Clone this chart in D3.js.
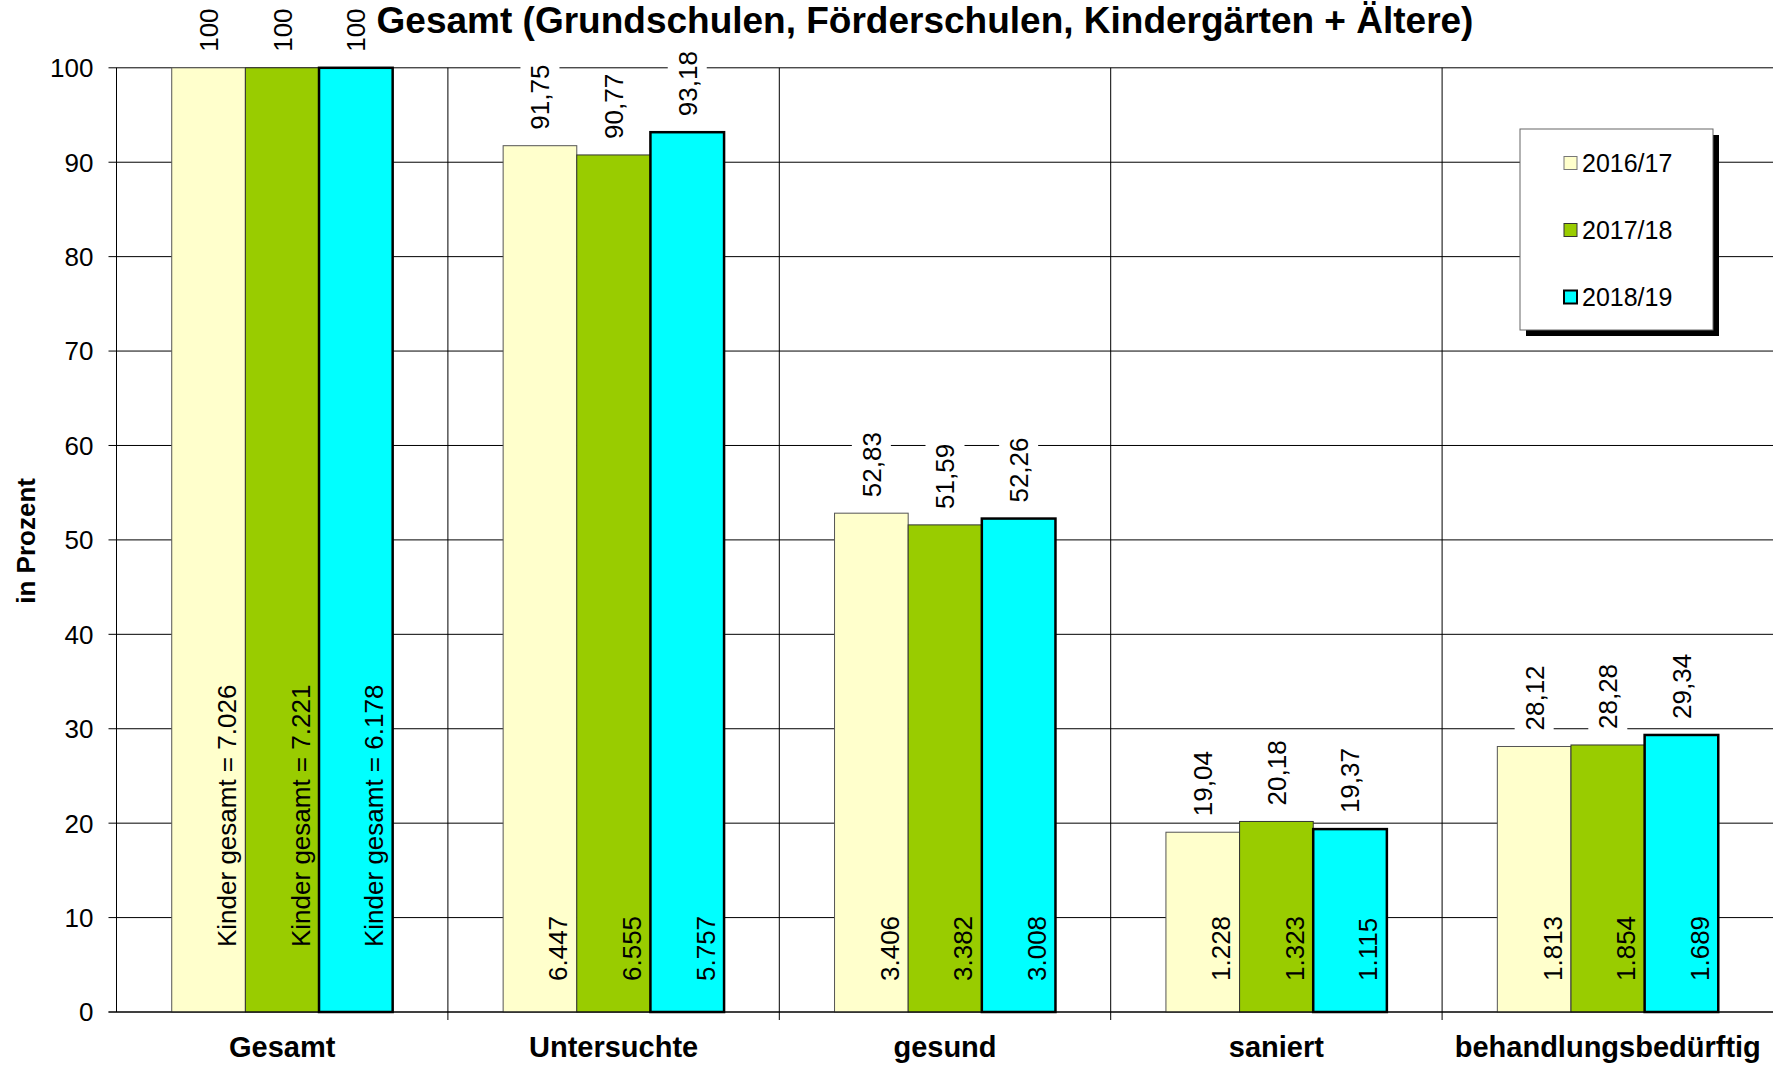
<!DOCTYPE html>
<html>
<head>
<meta charset="utf-8">
<script src="https://cdn.jsdelivr.net/npm/d3@7"></script>
<style>
  html, body { margin: 0; padding: 0; background: #fff; }
  svg { display: block; font-family: "Liberation Sans", Arial, sans-serif; }
</style>
</head>
<body>
<svg id="chart" width="1773" height="1066"></svg>
<script>
// data
const categories = ["Gesamt", "Untersuchte", "gesund", "saniert", "behandlungsbedürftig"];
const seasons = ["2016/17", "2017/18", "2018/19"];
const pct201617 = [100, 91.75, 52.83, 19.04, 28.12];
const pct201718 = [100, 90.77, 51.59, 20.18, 28.28];
const pct201819 = [100, 93.18, 52.26, 19.37, 29.34];
const kids201617 = [7026, 6447, 3406, 1228, 1813];
const kids201718 = [7221, 6555, 3382, 1323, 1854];
const kids201819 = [6178, 5757, 3008, 1115, 1689];
const yTicks = [0, 10, 20, 30, 40, 50, 60, 70, 80, 90, 100];

const pctBySeason = [pct201617, pct201718, pct201819];
const kidsBySeason = [kids201617, kids201718, kids201819];

const fills   = ["#ffffcc", "#99cc00", "#00ffff"];
const strokes = ["#555", "#333", "#000"];
const strokeW = [1, 1, 2.5];

const de = d3.formatLocale({ decimal: ",", thousands: ".", grouping: [3], currency: ["", " €"] });
const fmtPct = v => Number.isInteger(v) ? String(v) : de.format(".2f")(v);
const fmtKids = de.format(",d");

const svg = d3.select("#chart");
const FONT = 26;

// 1) scales
const plot = { left: 116.5, right: 1773.5, top: 67.8, bottom: 1012 };
const x0 = d3.scaleBand().domain(categories).range([plot.left, plot.right]).paddingInner(0).paddingOuter(0);
const x1 = d3.scaleBand().domain(seasons).range([0, x0.bandwidth()]).paddingInner(0).paddingOuter(0.75);
const y = d3.scaleLinear().domain([0, 100]).range([plot.bottom, plot.top]);

// rows: one per bar
const rows = [];
categories.forEach((c, i) => {
  seasons.forEach((s, j) => {
    rows.push({ cat: c, season: s, si: j, pct: pctBySeason[j][i], kids: kidsBySeason[j][i], ci: i });
  });
});

// 2) grid + axes
const grid = svg.append("g").attr("class", "grid");
grid.selectAll("line.h").data(yTicks).join("line")
  .attr("class", "h")
  .attr("x1", plot.left - 8).attr("x2", plot.right)
  .attr("y1", d => y(d)).attr("y2", d => y(d))
  .attr("stroke", "#000").attr("stroke-width", 1);

// category separators (with small ticks below the axis)
grid.selectAll("line.v").data(categories).join("line")
  .attr("class", "v")
  .attr("x1", d => x0(d)).attr("x2", d => x0(d))
  .attr("y1", plot.top).attr("y2", (d, i) => i === 0 ? plot.bottom : plot.bottom + 8)
  .attr("stroke", "#000").attr("stroke-width", 1);

svg.append("g").selectAll("text").data(yTicks).join("text")
  .attr("x", plot.left - 23)
  .attr("y", d => y(d))
  .attr("dy", "0.36em")
  .attr("text-anchor", "end")
  .attr("font-size", FONT)
  .text(d => d);

svg.append("text")
  .attr("transform", `translate(35,${(plot.top + plot.bottom) / 2 + 1}) rotate(-90)`)
  .attr("text-anchor", "middle")
  .attr("font-size", 26).attr("font-weight", "bold")
  .text("in Prozent");

svg.append("g").selectAll("text").data(categories).join("text")
  .attr("x", d => x0(d) + x0.bandwidth() / 2)
  .attr("y", 1057)
  .attr("text-anchor", "middle")
  .attr("font-size", 29).attr("font-weight", "bold")
  .text(d => d);

// 3) bars
svg.append("g").attr("class", "bars").selectAll("rect").data(rows).join("rect")
  .attr("x", d => x0(d.cat) + x1(d.season))
  .attr("y", d => y(d.pct))
  .attr("width", x1.bandwidth())
  .attr("height", d => y(0) - y(d.pct))
  .attr("fill", d => fills[d.si])
  .attr("stroke", d => strokes[d.si])
  .attr("stroke-width", d => strokeW[d.si]);

// zero line on top of bars
svg.append("line")
  .attr("x1", plot.left - 8).attr("x2", plot.right)
  .attr("y1", y(0)).attr("y2", y(0))
  .attr("stroke", "#000");

// 4) percent labels above the bars (white box behind, cuts the grid)
const pctLabels = svg.append("g").attr("class", "pct-labels");
rows.forEach(d => {
  const cx = x0(d.cat) + x1(d.season) + x1.bandwidth() / 2;
  const y0 = y(d.pct) - 16;
  const gl = pctLabels.append("g");
  const box = gl.append("rect").attr("fill", "#fff");
  const t = gl.append("text")
    .attr("transform", `translate(${cx},${y0}) rotate(-90)`)
    .attr("dy", "0.36em")
    .attr("font-size", FONT)
    .text(fmtPct(d.pct));
  const len = t.node().getComputedTextLength();
  box.attr("x", cx - 19.5).attr("width", 39)
    .attr("y", y0 - len - 4).attr("height", len + 8);
});

// 5) counts inside the bars
svg.append("g").attr("class", "kid-labels").selectAll("text").data(rows).join("text")
  .attr("transform", d => {
    const cx = x0(d.cat) + x1(d.season) + x1.bandwidth() / 2 + 18;
    const y0 = d.ci === 0 ? 947 : 981;
    return `translate(${cx},${y0}) rotate(-90)`;
  })
  .attr("dy", "0.36em")
  .attr("font-size", FONT)
  .text(d => d.ci === 0 ? `Kinder gesamt = ${fmtKids(d.kids)}` : fmtKids(d.kids));

// 6) title
svg.append("text")
  .attr("x", 925).attr("y", 33)
  .attr("text-anchor", "middle")
  .attr("font-size", 37).attr("font-weight", "bold")
  .text("Gesamt (Grundschulen, Förderschulen, Kindergärten + Ältere)");

// 7) legend with drop shadow
const lg = svg.append("g").attr("transform", "translate(1520,129)");
lg.append("rect").attr("x", 6).attr("y", 6).attr("width", 193).attr("height", 201).attr("fill", "#000");
lg.append("rect").attr("width", 193).attr("height", 201).attr("fill", "#fff").attr("stroke", "#666");
const item = lg.selectAll("g.item").data(seasons).join("g")
  .attr("class", "item")
  .attr("transform", (d, i) => `translate(0,${34 + i * 67})`);
item.append("rect")
  .attr("x", 44).attr("y", -6.5).attr("width", 13).attr("height", 13)
  .attr("fill", (d, i) => fills[i])
  .attr("stroke", (d, i) => i === 0 ? "#777" : strokes[i])
  .attr("stroke-width", (d, i) => i === 2 ? 2 : 1);
item.append("text")
  .attr("x", 62).attr("dy", "0.36em")
  .attr("font-size", 25)
  .text(d => d);
</script>
</body>
</html>
